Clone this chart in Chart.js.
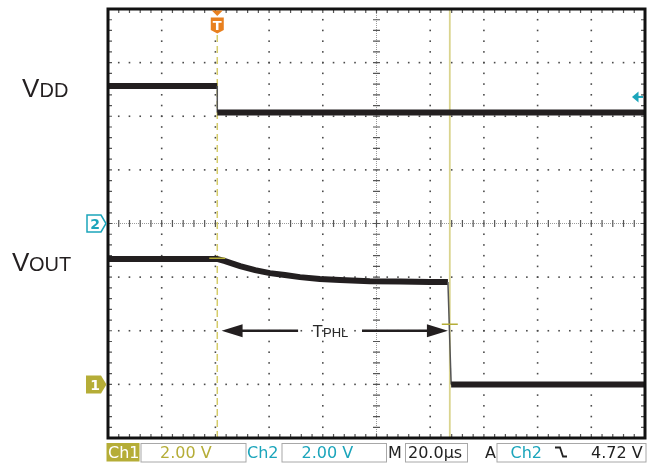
<!DOCTYPE html>
<html>
<head>
<meta charset="utf-8">
<script src="https://cdn.jsdelivr.net/npm/chart.js@4.4.0/dist/chart.umd.min.js"></script>
<style>
  html, body { margin: 0; padding: 0; background: #fff; }
  #wrap { width: 655px; height: 463px; }
</style>
</head>
<body>
<div id="wrap"><canvas id="scope" width="655" height="463"></canvas></div>
<script>
// time in µs from the left edge of the screen (20 µs/div), volts per channel
const vddTime  = [0, 40.7, 40.7, 200];
const vddVolts = [5.13, 5.13, 4.14, 4.14];

const voutTime  = [0, 40.6, 43.6, 49.2, 54.8, 60.3, 65.9, 71.5, 78.9, 86.4, 97.5, 108.7, 119.9, 125.5, 126.6, 127.8, 200];
const voutVolts = [4.68, 4.68, 4.60, 4.41, 4.26, 4.15, 4.08, 4.00, 3.93, 3.89, 3.85, 3.84, 3.82, 3.82, 3.82, 0.0, 0.0];

const triggerTime = 40.7;
const cursorTime = 127.3;
const trigLevel = 4.72;           // Ch2 volts
const crossTimes = [40.7, 127.3]; // small Ch1 marks
const crossVolts = [4.70, 2.24];
const tphlTimes = [42.3, 70.8, 94.6, 126.6]; // left tip, left tail, right tail, right tip
const tphlLevel = 2.0;            // Ch1 volts

const readouts = ["Ch1", "2.00 V", "Ch2", "2.00 V", "M", "20.0\u00b5s", "A", "Ch2", "4.72 V"];

const OLIVE = "#b5ad37";
const CYAN = "#1ba5bb";
const TRACE = "#231f20";

const toPoints = (xs, ys) => xs.map((t, i) => ({ x: t, y: ys[i] }));
const isEdge = c => Math.abs(c.p0.parsed.y - c.p1.parsed.y) > 0.5;

const graticule = {
    id: "graticule",
    beforeDatasetsDraw(chart) {
        const { ctx, chartArea: a, scales } = chart;
        const x = scales.x, y = scales.ch2;
        ctx.save();

        // dotted grid
        ctx.fillStyle = "#4a4a4a";
        for (let d = 1; d < 10; d++) {
            if (d === 5) continue;
            const px = x.getPixelForValue(d * 20);
            for (let i = 0; i <= 40; i++) {
                const py = y.getPixelForValue(-8 + i * 0.4);
                ctx.fillRect(px - 0.8, py - 0.8, 1.6, 1.6);
            }
        }
        for (let d = -3; d <= 3; d++) {
            if (d === 0) continue;
            const py = y.getPixelForValue(d * 2);
            for (let i = 0; i <= 50; i++) {
                const px = x.getPixelForValue(i * 4);
                ctx.fillRect(px - 0.8, py - 0.8, 1.6, 1.6);
            }
        }

        // centre cross
        const cx = x.getPixelForValue(100), cy = y.getPixelForValue(0);
        ctx.strokeStyle = "#9a9a9a";
        ctx.lineWidth = 1;
        ctx.setLineDash([1, 1]);
        ctx.beginPath();
        ctx.moveTo(a.left, cy); ctx.lineTo(a.right, cy);
        ctx.moveTo(cx, a.top); ctx.lineTo(cx, a.bottom);
        ctx.stroke();
        ctx.setLineDash([]);
        ctx.strokeStyle = "#555";
        ctx.lineWidth = 1.2;
        ctx.beginPath();
        for (let i = 0; i <= 50; i++) {
            const px = x.getPixelForValue(i * 4);
            ctx.moveTo(px, cy - 3.5); ctx.lineTo(px, cy + 3.5);
            ctx.moveTo(px, a.top); ctx.lineTo(px, a.top + 4);
            ctx.moveTo(px, a.bottom); ctx.lineTo(px, a.bottom - 4);
        }
        for (let i = 0; i <= 40; i++) {
            const py = y.getPixelForValue(-8 + i * 0.4);
            ctx.moveTo(cx - 3.5, py); ctx.lineTo(cx + 3.5, py);
            ctx.moveTo(a.left, py); ctx.lineTo(a.left + 4, py);
            ctx.moveTo(a.right, py); ctx.lineTo(a.right - 4, py);
        }
        ctx.stroke();

        // trigger position line and cursor
        const tx = x.getPixelForValue(triggerTime);
        ctx.strokeStyle = "#d6cc6a";
        ctx.lineWidth = 1.5;
        ctx.setLineDash([7, 4]);
        ctx.beginPath();
        ctx.moveTo(tx, 35); ctx.lineTo(tx, a.bottom);
        ctx.stroke();
        ctx.setLineDash([]);
        const ux = x.getPixelForValue(cursorTime);
        ctx.strokeStyle = "#dad48e";
        ctx.lineWidth = 1.8;
        ctx.beginPath();
        ctx.moveTo(ux, a.top); ctx.lineTo(ux, a.bottom);
        ctx.stroke();
        ctx.restore();
    },
    afterDatasetsDraw(chart) {
        const { ctx, chartArea: a, scales } = chart;
        const x = scales.x, y1 = scales.ch1, y2 = scales.ch2;
        ctx.save();

        // small Ch1 marks
        ctx.strokeStyle = OLIVE;
        ctx.lineWidth = 1.5;
        ctx.beginPath();
        crossTimes.forEach((t, i) => {
            const px = x.getPixelForValue(t), py = y1.getPixelForValue(crossVolts[i]);
            ctx.moveTo(px - 8, py); ctx.lineTo(px + 8, py);
        });
        ctx.stroke();

        // frame
        ctx.strokeStyle = "#111";
        ctx.lineWidth = 3;
        ctx.strokeRect(a.left, a.top, a.right - a.left, a.bottom - a.top);

        // TPHL arrows
        const ay = y1.getPixelForValue(tphlLevel);
        const [l0, l1, r0, r1] = tphlTimes.map(t => x.getPixelForValue(t));
        ctx.strokeStyle = TRACE;
        ctx.fillStyle = TRACE;
        ctx.lineWidth = 2.5;
        ctx.beginPath();
        ctx.moveTo(l0 + 15, ay); ctx.lineTo(l1, ay);
        ctx.moveTo(r0, ay); ctx.lineTo(r1 - 15, ay);
        ctx.stroke();
        ctx.beginPath();
        ctx.moveTo(l0, ay); ctx.lineTo(l0 + 21, ay - 6.5); ctx.lineTo(l0 + 21, ay + 6.5); ctx.closePath();
        ctx.moveTo(r1, ay); ctx.lineTo(r1 - 21, ay - 6.5); ctx.lineTo(r1 - 21, ay + 6.5); ctx.closePath();
        ctx.fill();
        ctx.fillStyle = "#2a2a2a";
        ctx.textBaseline = "alphabetic";
        ctx.font = "17px 'Liberation Sans', Arial, sans-serif";
        ctx.fillText("T", 312.5, 337);
        ctx.font = "13px 'Liberation Sans', Arial, sans-serif";
        ctx.fillText("PHL", 323, 337);

        // trigger marker T
        const tx = x.getPixelForValue(triggerTime);
        ctx.fillStyle = "#e8801f";
        ctx.beginPath();
        ctx.moveTo(tx - 5.5, 10.5); ctx.lineTo(tx + 5.5, 10.5); ctx.lineTo(tx, 16); ctx.closePath();
        ctx.fill();
        ctx.beginPath();
        ctx.moveTo(tx - 6.5, 17.5); ctx.lineTo(tx + 6.5, 17.5); ctx.lineTo(tx + 6.5, 30);
        ctx.lineTo(tx, 33.5); ctx.lineTo(tx - 6.5, 30); ctx.closePath();
        ctx.fill();
        ctx.fillStyle = "#fff";
        ctx.font = "bold 13px 'DejaVu Sans', sans-serif";
        ctx.textAlign = "center";
        ctx.fillText("T", tx, 30);

        // channel ground markers
        const g2 = y2.getPixelForValue(0);
        ctx.strokeStyle = CYAN;
        ctx.lineWidth = 1.5;
        ctx.beginPath();
        ctx.moveTo(87, g2 - 8.5); ctx.lineTo(101, g2 - 8.5); ctx.lineTo(106, g2);
        ctx.lineTo(101, g2 + 8.5); ctx.lineTo(87, g2 + 8.5); ctx.closePath();
        ctx.stroke();
        ctx.fillStyle = CYAN;
        ctx.font = "bold 14px 'DejaVu Sans', sans-serif";
        ctx.fillText("2", 95, g2 + 5.5);

        const g1 = y1.getPixelForValue(0);
        ctx.fillStyle = OLIVE;
        ctx.beginPath();
        ctx.moveTo(86, g1 - 9); ctx.lineTo(101, g1 - 9); ctx.lineTo(106.5, g1);
        ctx.lineTo(101, g1 + 9); ctx.lineTo(86, g1 + 9); ctx.closePath();
        ctx.fill();
        ctx.fillStyle = "#fff";
        ctx.fillText("1", 95, g1 + 5.5);

        // Ch2 trigger level arrow
        const tl = y2.getPixelForValue(trigLevel);
        ctx.fillStyle = CYAN;
        ctx.beginPath();
        ctx.moveTo(632, tl); ctx.lineTo(638.5, tl - 5.5); ctx.lineTo(638.5, tl + 5.5); ctx.closePath();
        ctx.fill();
        ctx.strokeStyle = CYAN;
        ctx.lineWidth = 2;
        ctx.beginPath();
        ctx.moveTo(638, tl); ctx.lineTo(643, tl);
        ctx.stroke();

        ctx.restore();
    },
    afterDraw(chart) {
        const { ctx, scales } = chart;
        const y1 = scales.ch1, y2 = scales.ch2;
        ctx.save();

        // signal names
        ctx.fillStyle = TRACE;
        ctx.textAlign = "left";
        const vddY = y2.getPixelForValue(vddVolts[0]) + 11;
        const voutY = y1.getPixelForValue(voutVolts[0]) + 12;
        ctx.font = "26px 'Liberation Sans', Arial, sans-serif";
        ctx.fillText("V", 22, vddY);
        ctx.fillText("V", 12, voutY);
        ctx.font = "20px 'Liberation Sans', Arial, sans-serif";
        ctx.fillText("DD", 39.5, vddY);
        ctx.fillText("OUT", 29, voutY);

        // readout bar
        const top = 443, h = 18.5, base = 457.5;
        ctx.fillStyle = OLIVE;
        ctx.fillRect(106.5, top, 33, h);
        ctx.strokeStyle = "#a8a8a8";
        ctx.lineWidth = 1;
        [[140.5, 105], [281.5, 104.5], [405, 62], [496.5, 149]].forEach(([bx, bw]) => {
            ctx.strokeRect(bx + 0.5, top + 0.5, bw, h);
        });
        ctx.font = "16px 'DejaVu Sans', sans-serif";
        const items = [
            [readouts[0], 108, "#fff"],
            [readouts[1], 160, OLIVE],
            [readouts[2], 247, CYAN],
            [readouts[3], 301.5, CYAN],
            [readouts[4], 388, "#222"],
            [readouts[5], 408, "#222"],
            [readouts[6], 485, "#222"],
            [readouts[7], 510.5, CYAN],
            [readouts[8], 591, "#222"]
        ];
        items.forEach(([s, px, c]) => {
            ctx.fillStyle = c;
            ctx.fillText(s, px, base);
        });
        // falling edge glyph
        ctx.strokeStyle = "#222";
        ctx.lineWidth = 1.8;
        ctx.beginPath();
        ctx.moveTo(555, 447.5); ctx.lineTo(560, 447.5); ctx.lineTo(563, 456.5); ctx.lineTo(567, 456.5);
        ctx.stroke();
        ctx.restore();
    }
};

const ctx = document.querySelector("#scope");

const scopeChart = new Chart(ctx, {
    type: "line",
    data: {
        datasets: [{
            label: "VDD",
            data: toPoints(vddTime, vddVolts),
            yAxisID: "ch2"
        }, {
            label: "VOUT",
            data: toPoints(voutTime, voutVolts),
            yAxisID: "ch1"
        }]
    },
    options: {
        responsive: false,
        animation: false,
        events: [],
        layout: {
            padding: { left: 108, right: 10, top: 9, bottom: 25 }
        },
        elements: {
            point: { radius: 0 },
            line: {
                borderColor: TRACE,
                borderWidth: 6,
                tension: 0
            }
        },
        datasets: {
            line: {
                segment: {
                    borderWidth: c => isEdge(c) ? 1.5 : 6,
                    borderColor: c => isEdge(c) ? "#555" : TRACE
                }
            }
        },
        scales: {
            x: { type: "linear", min: 0, max: 200, display: false },
            ch1: { type: "linear", min: -2, max: 14, display: false },
            ch2: { type: "linear", min: -8, max: 8, display: false }
        },
        plugins: {
            legend: { display: false },
            tooltip: { enabled: false }
        }
    },
    plugins: [graticule]
});
</script>
</body>
</html>
